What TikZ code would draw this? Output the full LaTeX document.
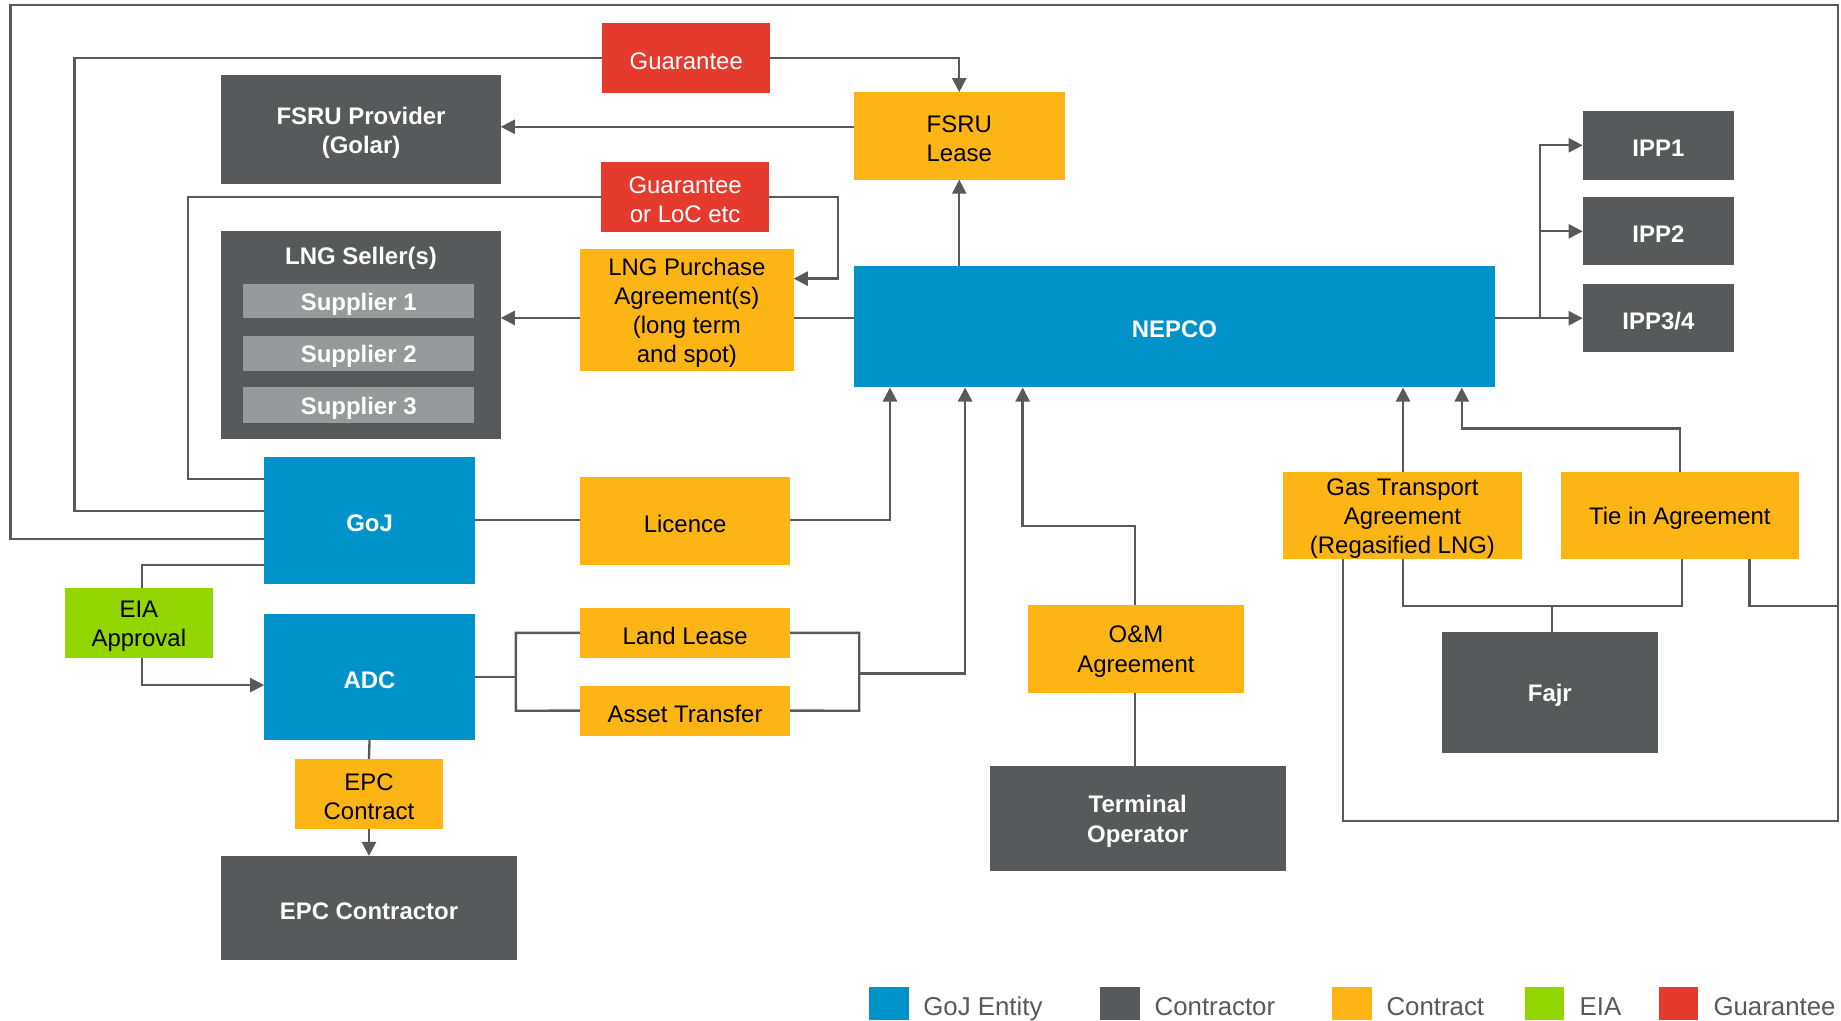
\documentclass[tikz,border=0pt]{standalone}
\usepackage{fontspec}
\setmainfont{Liberation Sans}
\usetikzlibrary{arrows.meta}
\definecolor{cblue}{HTML}{0093C9}
\definecolor{cdark}{HTML}{58595B}
\definecolor{corange}{HTML}{FDB515}
\definecolor{cred}{HTML}{E53B2F}
\definecolor{cgreen}{HTML}{93D500}
\definecolor{csup}{HTML}{98999B}
\definecolor{cline}{HTML}{595959}
\newcommand\bx[7]{\node[#6, minimum width={(#4-#2)*0.5pt}, minimum height={(#5-#3)*0.5pt}] (#1) at ({(#2+#4)/2},{(#3+#5)/2}) {};
  \node[#6, fill=none] (#1-t) at ({(#2+#4)/2},{(#3+#5)/2+2.5}) {#7};}
\tikzset{
  box/.style={inner sep=0pt, outer sep=0pt, align=center, font=\fontsize{10.2}{12.4}\selectfont},
  gojbox/.style={box, fill=cblue, text=white, font=\fontsize{10.2}{12.4}\selectfont\bfseries},
  darkbox/.style={box, fill=cdark, text=white, font=\fontsize{10.2}{12.4}\selectfont\bfseries},
  supbox/.style={box, fill=csup, text=white, font=\fontsize{10.2}{12.4}\selectfont\bfseries},
  contbox/.style={box, fill=corange, text=black},
  guarbox/.style={box, fill=cred, text=white},
  eiabox/.style={box, fill=cgreen, text=black},
  legsq/.style={inner sep=0pt, outer sep=0pt},
  legtext/.style={anchor=base west, inner sep=0pt, text=cdark, font=\fontsize{11}{13}\selectfont},
  conn/.style={draw=cline, line width=1pt},
  arr/.style={conn, -{Triangle[length=6pt,width=6pt]}},
}
\begin{document}
\begin{tikzpicture}[x=0.5pt, y=-0.5pt]
\useasboundingbox (0,0) rectangle (1568,869);
% boxes
\bx{guarA}{513}{19.5}{656}{79}{guarbox}{Guarantee}
\bx{fsruprov}{188.5}{64}{426.5}{156.5}{darkbox}{FSRU Provider\\(Golar)}
\bx{fsrulease}{727}{78.5}{907}{153}{contbox}{FSRU\\Lease}
\bx{guarB}{512}{138}{655}{197.5}{guarbox}{Guarantee\\or LoC etc}
\bx{lngseller}{188.5}{197}{426.5}{374}{darkbox}{}
\node[darkbox, fill=none] (lngsellerlabel) at (307.5,220) {LNG Seller(s)};
\bx{supA}{207}{242}{404}{271}{supbox}{Supplier 1}
\bx{supB}{207}{286}{404}{316}{supbox}{Supplier 2}
\bx{supC}{207}{330}{404}{360}{supbox}{Supplier 3}
\bx{lngpa}{494}{212}{676}{316}{contbox}{LNG Purchase\\Agreement(s)\\(long term\\and spot)}
\bx{nepco}{727}{226.5}{1273.5}{330}{gojbox}{NEPCO}
\bx{ippA}{1348}{94.5}{1477}{153}{darkbox}{IPP1}
\bx{ippB}{1348}{168}{1477}{226}{darkbox}{IPP2}
\bx{ippC}{1348}{242}{1477}{300}{darkbox}{IPP3/4}
\bx{goj}{225}{389}{404.5}{497.5}{gojbox}{GoJ}
\bx{licence}{494}{406.5}{673}{481}{contbox}{Licence}
\bx{eia}{55.5}{501}{181}{560}{eiabox}{EIA\\Approval}
\bx{adc}{225}{523}{404.5}{630}{gojbox}{ADC}
\bx{landlease}{494}{518}{673}{560}{contbox}{Land Lease}
\bx{asset}{494}{584}{673}{626.5}{contbox}{Asset Transfer}
\bx{epcc}{251.5}{646.5}{377}{706}{contbox}{EPC\\Contract}
\bx{epccontractor}{188.5}{729}{440}{818}{darkbox}{EPC Contractor}
\bx{om}{875.5}{515}{1059.5}{590}{contbox}{O\&M\\Agreement}
\bx{terminal}{843}{652.5}{1095}{741.5}{darkbox}{Terminal\\Operator}
\bx{gta}{1093}{402}{1296}{476}{contbox}{Gas Transport\\Agreement\\(Regasified LNG)}
\bx{tie}{1329.5}{402}{1532}{476}{contbox}{Tie in Agreement}
\bx{fajr}{1228}{538}{1412}{641}{darkbox}{Fajr}
% connectors
\draw[conn] (goj.west|-0,435) -- (63.5,435) |- (guarA.west);
\draw[arr] (guarA.east) -| (fsrulease.north);
\draw[arr] (fsrulease.west|-0,108) -- (fsruprov.east|-0,108);
\draw[conn] (goj.west|-0,408) -- (160,408) |- (guarB.west);
\draw[arr] (guarB.east) -| (714,237.3) -- (lngpa.east|-0,237.3);
\draw[arr] (lngpa.west|-0,270.8) -- (lngseller.east|-0,270.8);
\draw[conn] (nepco.west|-0,270.8) -- (lngpa.east|-0,270.8);
\draw[arr] (817,0|-nepco.north) -- (fsrulease.south);
\coordinate (ippbr) at (1311.6,271);
\draw[arr] (nepco.east|-ippC.west) -- (ippC.west);
\draw[arr] (ippbr) |- (ippA.west);
\draw[arr] (ippbr|-ippB.west) -- (ippB.west);
\draw[conn] (goj.east|-0,443) -- (licence.west|-0,443);
\draw[arr] (licence.east|-0,443) -| (758,0|-nepco.south);
\draw[conn] (goj.west|-0,481) -| (121,0|-eia.north);
\draw[arr] (121,0|-eia.south) |- (adc.west|-0,583.5);
\draw[conn] (adc.east|-0,576.7) -- (439.4,576.7);
\draw[conn] (landlease.west) -| (439.4,605.3) -- (asset.west);
\draw[conn] (landlease.east) -| (731.8,605.3) -- (asset.east);
\draw[arr] (731.8,573.7) -| (822,0|-nepco.south);
\draw[conn] (adc.south) -- (epcc.north);
\draw[arr] (epcc.south) -- (epccontractor.north);
\draw[conn] (966.7,0|-om.south) -- (966.7,0|-terminal.north);
\draw[arr] (966.7,0|-om.north) |- (871,448) -- (871,0|-nepco.south);
\draw[arr] (1195,0|-gta.north) -- (1195,0|-nepco.south);
\draw[arr] (tie.north) |- (1245,365) -- (1245,0|-nepco.south);
\draw[conn] (1195,0|-gta.south) |- (1432.5,516) -- (1432.5,0|-tie.south);
\draw[conn] (1322,0|-fajr.north) -- (1322,516);
\draw[conn] (goj.west|-0,459) -- (9,459) |- (1565.5,4) |- (1144,699) -- (1144,0|-gta.south);
\draw[conn] (1490,0|-tie.south) |- (1565.5,516);
% legend
\bx{lgA}{740}{840.5}{774}{869}{legsq, fill=cblue}{}
\bx{lgB}{937}{840.5}{971}{869}{legsq, fill=cdark}{}
\bx{lgC}{1134.5}{840.5}{1168.5}{869}{legsq, fill=corange}{}
\bx{lgD}{1299}{840.5}{1332}{869}{legsq, fill=cgreen}{}
\bx{lgE}{1413}{840.5}{1446}{869}{legsq, fill=cred}{}
\node[legtext] (ltA) at (786,864.5) {GoJ Entity};
\node[legtext] (ltB) at (983,864.5) {Contractor};
\node[legtext] (ltC) at (1180.5,864.5) {Contract};
\node[legtext] (ltD) at (1345,864.5) {EIA};
\node[legtext] (ltE) at (1459,864.5) {Guarantee};
\end{tikzpicture}
\end{document}
